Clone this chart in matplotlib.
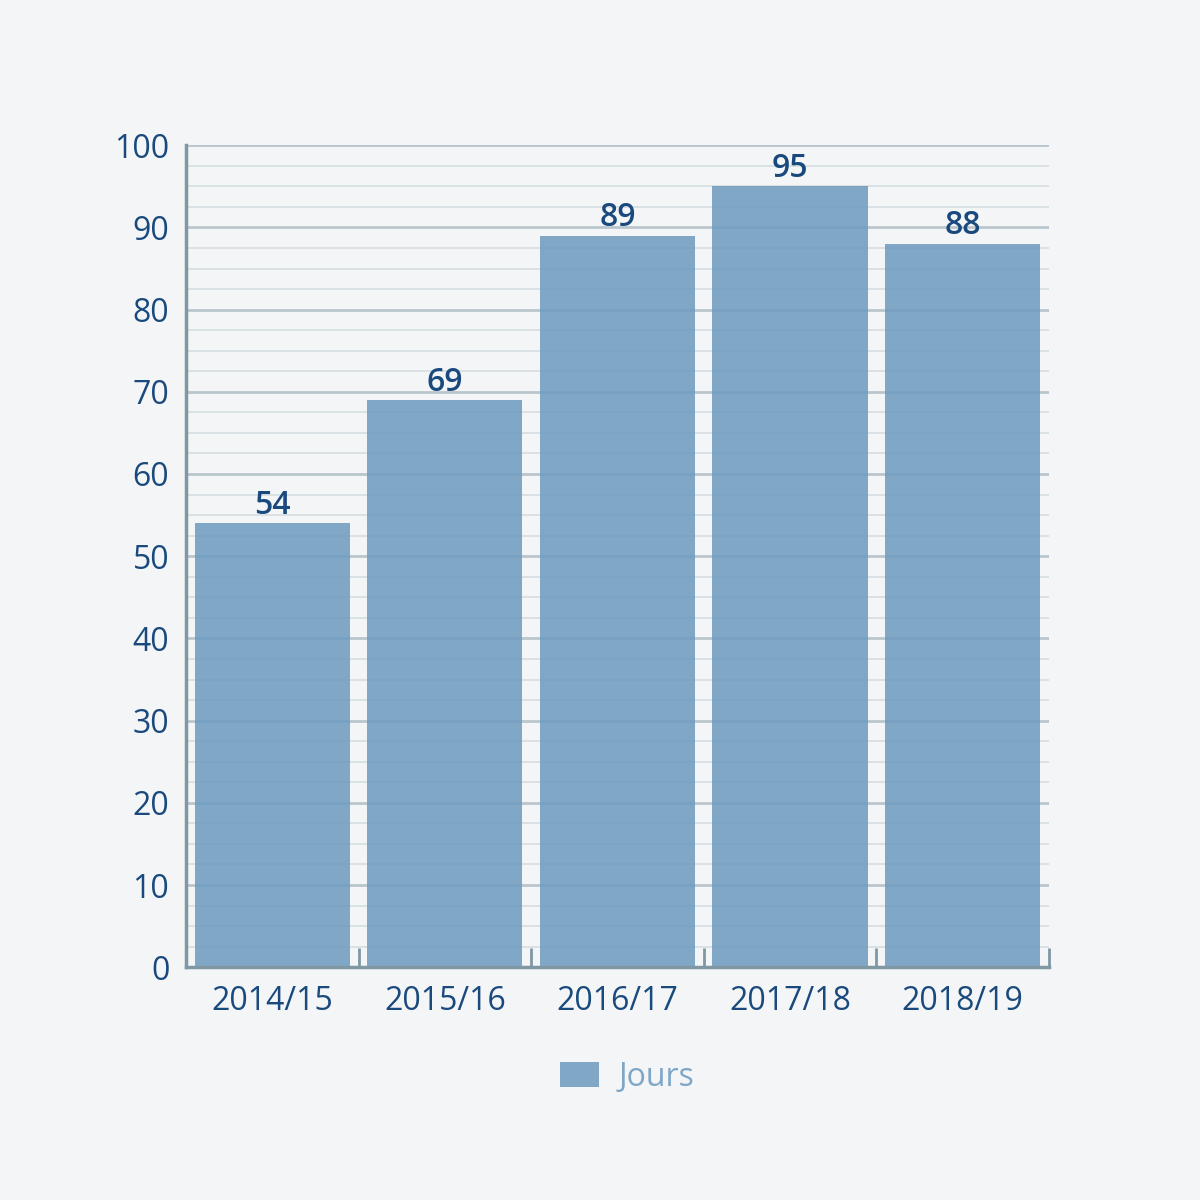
import numpy as np
import matplotlib.pyplot as plt
from matplotlib.patches import Patch

seasons = ["2014/15", "2015/16", "2016/17", "2017/18", "2018/19"]
jours = [54, 69, 89, 95, 88]
y_ticks = [0, 10, 20, 30, 40, 50, 60, 70, 80, 90, 100]

bg = "#f4f5f7"
bar_color = "#6d9abf"
text_color = "#1a4a7d"
spine_color = "#7f98a3"

plt.rcParams["font.family"] = ["Open Sans", "DejaVu Sans"]

fig = plt.figure(figsize=(12, 12), dpi=100, facecolor=bg)
ax = fig.add_axes([0.155, 0.194, 0.719, 0.685])
ax.set_facecolor(bg)

x = np.arange(len(seasons))
ax.bar(x, jours, width=0.9, color=bar_color, alpha=0.85, zorder=3)

for xi, v in zip(x, jours):
    ax.annotate(str(v), (xi, v), xytext=(0, 1), textcoords="offset points",
                ha="center", va="bottom", fontsize=23, color=text_color,
                fontweight="semibold", zorder=4)

ax.set_xlim(-0.5, len(seasons) - 0.5)
ax.set_ylim(0, 100)
ax.set_yticks(y_ticks)
ax.set_yticks(np.arange(0, 100.1, 2.5), minor=True)
ax.set_xticks(x)
ax.set_xticklabels(seasons)
ax.set_xticks(np.arange(0.5, len(seasons), 1.0), minor=True)

ax.grid(axis="y", which="major", color="#b9c6cd", linewidth=2, zorder=1)
ax.grid(axis="y", which="minor", color="#d5dde2", linewidth=1.2, zorder=1)
ax.set_axisbelow(True)

ax.tick_params(axis="y", which="both", length=0, labelsize=23,
               labelcolor=text_color, pad=12)
ax.tick_params(axis="x", which="major", length=0, labelsize=23,
               labelcolor=text_color, pad=13)
ax.tick_params(axis="x", which="minor", direction="in", length=14,
               width=2, color=spine_color)

for s in ["top", "right"]:
    ax.spines[s].set_visible(False)
for s in ["left", "bottom"]:
    ax.spines[s].set_color(spine_color)
    ax.spines[s].set_linewidth(2.5)
    ax.spines[s].set_zorder(5)

handles = [Patch(facecolor=bar_color, alpha=0.85, label="Jours")]
leg = fig.legend(handles=handles, loc="center", bbox_to_anchor=(0.5225, 0.1025),
                 frameon=False, fontsize=23, handlelength=1.25, handleheight=0.8,
                 handletextpad=0.6)
for t in leg.get_texts():
    t.set_color("#7ea6c6")

fig.savefig("out.png", dpi=100, facecolor=bg)
plt.close(fig)
